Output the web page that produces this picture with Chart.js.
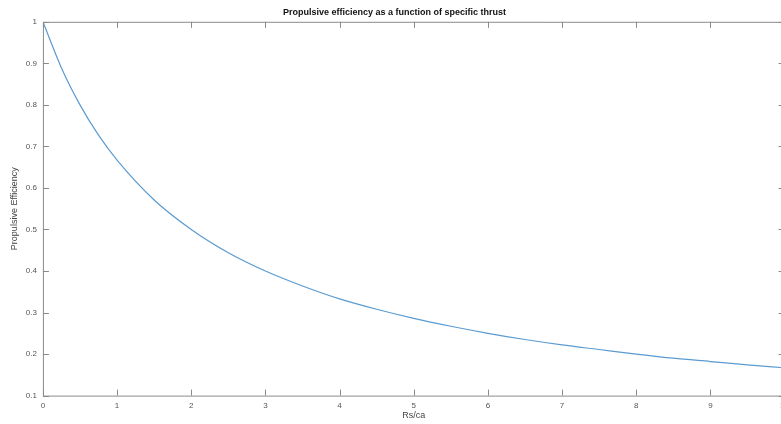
<!DOCTYPE html>
<html>
<head>
<meta charset="utf-8">
<script src="https://cdn.jsdelivr.net/npm/chart.js@4.4.0/dist/chart.umd.min.js"></script>
<style>
  html, body { margin: 0; padding: 0; background: #fff; overflow: hidden; }
  #wrap { width: 794px; height: 424px; }
</style>
</head>
<body>
<div id="wrap"><canvas id="mycanvas"></canvas></div>
<script>
// values
var rsca = [0, 0.25, 0.5, 0.75, 1, 1.5, 2, 2.5, 3, 3.5, 4, 4.5, 5, 5.5, 6, 6.5, 7, 7.5, 8, 8.5, 9, 9.5, 10];
var efficiency = [1, 0.889, 0.8, 0.727, 0.667, 0.571, 0.5, 0.444, 0.4, 0.364, 0.333, 0.308, 0.286, 0.267, 0.25, 0.235, 0.222, 0.211, 0.2, 0.19, 0.182, 0.174, 0.167];
var xTicks = [0, 1, 2, 3, 4, 5, 6, 7, 8, 9, 10];
var yTicks = [0.1, 0.2, 0.3, 0.4, 0.5, 0.6, 0.7, 0.8, 0.9, 1];

var points = [];
for (var i = 0; i < rsca.length; i++) {
    points.push({ x: rsca[i], y: efficiency[i] });
}

var axisColor = '#8a8a8a';

// matlab style box with inward ticks
var boxTicks = {
    id: 'boxTicks',
    afterDraw: function (chart) {
        var c = chart.ctx, a = chart.chartArea;
        var xs = chart.scales.x, ys = chart.scales.y;
        c.save();
        c.strokeStyle = axisColor;
        c.lineWidth = 1;
        c.beginPath();
        c.rect(a.left + 0.5, a.top + 0.5, a.right - a.left, a.bottom - a.top);
        xTicks.forEach(function (v) {
            var px = Math.round(xs.getPixelForValue(v)) + 0.5;
            c.moveTo(px, a.bottom); c.lineTo(px, a.bottom - 6);
            c.moveTo(px, a.top); c.lineTo(px, a.top + 6);
        });
        yTicks.forEach(function (v) {
            var py = Math.round(ys.getPixelForValue(v)) + 0.5;
            c.moveTo(a.left, py); c.lineTo(a.left + 6, py);
            c.moveTo(a.right, py); c.lineTo(a.right - 6, py);
        });
        c.stroke();
        c.restore();
    }
};

var ctx = document.getElementById('mycanvas');
var lineGraph = new Chart(ctx, {
    type: 'line',
    data: {
        datasets: [{
            label: 'Propulsive Efficiency',
            data: points,
            borderColor: '#5b9bd0',
            borderWidth: 1.2,
            pointRadius: 0,
            cubicInterpolationMode: 'monotone',
            fill: false
        }]
    },
    options: {
        responsive: true,
        maintainAspectRatio: false,
        animation: false,
        layout: { padding: { left: 0, right: 5, top: 0, bottom: 3 } },
        plugins: {
            legend: { display: false },
            tooltip: { enabled: false },
            title: {
                display: true,
                text: 'Propulsive efficiency as a function of specific thrust',
                color: '#111',
                font: { family: 'Liberation Sans', size: 9, weight: 'bold' },
                padding: { top: 7, bottom: 4 }
            }
        },
        scales: {
            x: {
                type: 'linear',
                min: 0,
                max: 10,
                afterBuildTicks: function (s) { s.ticks = xTicks.map(function (v) { return { value: v }; }); },
                grid: { display: false, drawTicks: false },
                border: { display: false },
                ticks: { color: '#555', font: { family: 'Liberation Sans', size: 8 }, padding: 5, maxRotation: 0 },
                title: { display: true, text: 'Rs/ca', color: '#444', font: { family: 'Liberation Sans', size: 9 }, padding: { top: -5, bottom: 0 } }
            },
            y: {
                min: 0.1,
                max: 1,
                afterBuildTicks: function (s) { s.ticks = yTicks.map(function (v) { return { value: v }; }); },
                grid: { display: false, drawTicks: false },
                border: { display: false },
                ticks: {
                    color: '#555',
                    font: { family: 'Liberation Sans', size: 8 },
                    padding: 6,
                    callback: function (v) { return String(Math.round(v * 10) / 10); }
                },
                title: { display: true, text: 'Propulsive Efficiency', color: '#444', font: { family: 'Liberation Sans', size: 9 }, padding: { top: 9, bottom: 0 } }
            }
        }
    },
    plugins: [boxTicks]
});
</script>
</body>
</html>
